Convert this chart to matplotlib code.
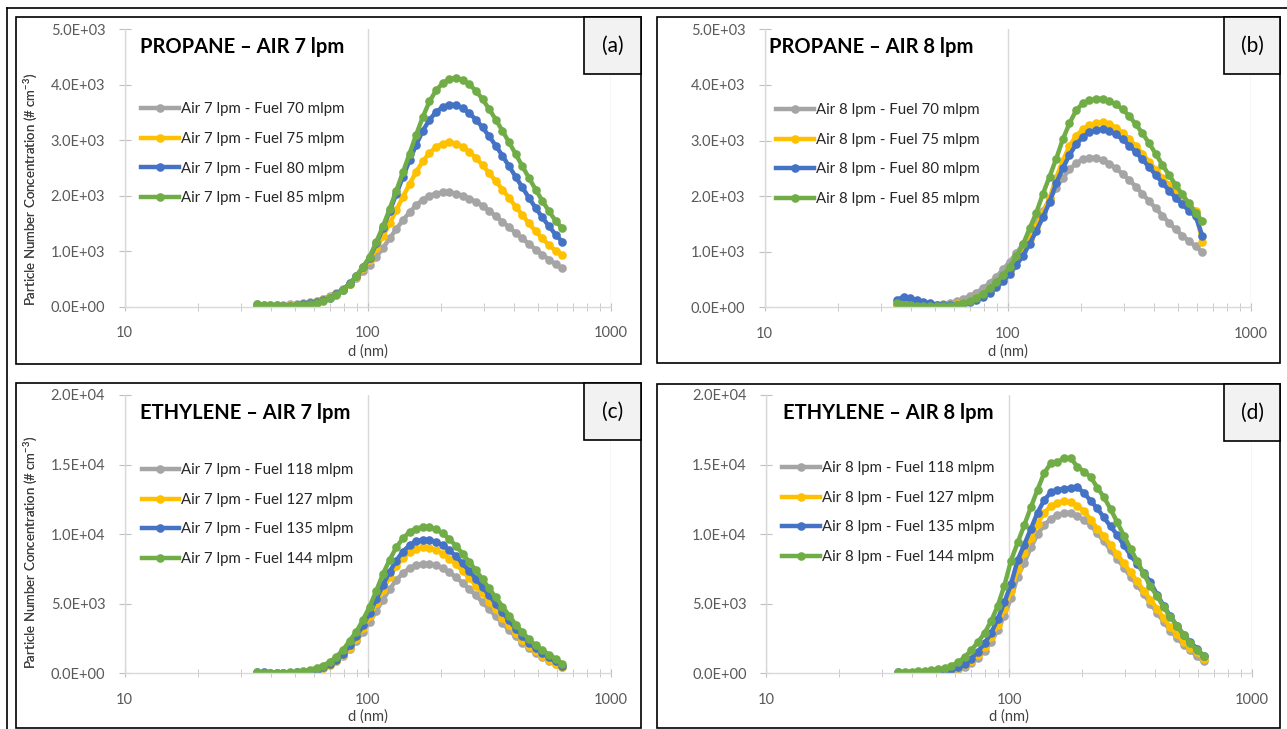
import matplotlib
matplotlib.use('Agg')
import matplotlib.pyplot as plt
from matplotlib.lines import Line2D
from matplotlib.patches import Rectangle
from matplotlib.ticker import FixedLocator, NullFormatter, FuncFormatter

plt.rcParams['font.family'] = ['Lato', 'DejaVu Sans']
plt.rcParams['mathtext.fontset'] = 'custom'
plt.rcParams['mathtext.rm'] = 'Lato'

# particle diameter (nm), SMPS channels
diam = [35.0, 37.3, 39.7, 42.3, 45.0, 47.9, 51.0, 54.4, 57.9, 61.6,
        65.6, 69.9, 74.4, 79.3, 84.4, 89.9, 95.7, 101.9, 108.6, 115.6,
        123.1, 131.1, 139.6, 148.7, 158.3, 168.6, 179.6, 191.2, 203.6, 216.9,
        230.9, 245.9, 261.9, 278.9, 297.0, 316.3, 336.8, 358.6, 381.9, 406.7,
        433.1, 461.2, 491.2, 523.1, 557.0, 593.2, 631.7]

# (a) propane, air 7 lpm
prop7_f70 = [40, 35, 30, 30, 35, 40, 50, 65, 85, 110, 145, 190, 250, 320, 410, 520, 640, 760, 900, 1060,
             1230, 1400, 1560, 1700, 1830, 1930, 2000, 2040, 2060, 2060, 2040, 2000, 1950, 1890, 1820,
             1730, 1630, 1530, 1430, 1330, 1230, 1130, 1030, 940, 850, 770, 690]
prop7_f75 = [5, 5, 8, 12, 18, 25, 35, 50, 70, 95, 130, 175, 235, 310, 410, 540, 690, 850, 1050, 1270,
             1500, 1740, 1980, 2210, 2430, 2620, 2770, 2880, 2940, 2960, 2940, 2880, 2790, 2680, 2550,
             2410, 2260, 2110, 1960, 1800, 1650, 1500, 1360, 1230, 1110, 1010, 930]
prop7_f80 = [10, 8, 8, 10, 14, 20, 28, 40, 58, 82, 115, 160, 225, 310, 420, 550, 710, 880, 1140, 1420,
             1720, 2030, 2340, 2640, 2920, 3170, 3370, 3510, 3600, 3640, 3630, 3580, 3490, 3370, 3230,
             3070, 2900, 2720, 2530, 2340, 2150, 1960, 1780, 1610, 1450, 1300, 1170]
prop7_f85 = [40, 35, 28, 22, 20, 20, 25, 32, 48, 70, 105, 150, 215, 300, 415, 560, 720, 900, 1170, 1450,
             1760, 2090, 2420, 2760, 3100, 3420, 3700, 3900, 4030, 4100, 4120, 4090, 4010, 3890, 3740,
             3560, 3370, 3170, 2960, 2750, 2530, 2320, 2110, 1910, 1720, 1550, 1410]

# (b) propane, air 8 lpm
prop8_f70 = [40, 40, 38, 35, 35, 38, 45, 60, 80, 110, 150, 200, 265, 345, 440, 550, 680, 820, 970, 1140,
             1330, 1530, 1730, 1940, 2150, 2330, 2480, 2590, 2660, 2690, 2690, 2650, 2580, 2500, 2400,
             2290, 2170, 2040, 1910, 1780, 1650, 1520, 1400, 1290, 1190, 1100, 990]
prop8_f75 = [60, 70, 55, 40, 30, 25, 25, 30, 40, 55, 80, 115, 160, 220, 300, 400, 520, 660, 830, 1010,
             1230, 1450, 1700, 1960, 2330, 2640, 2900, 3080, 3200, 3280, 3310, 3330, 3300, 3230, 3140,
             3030, 2900, 2760, 2620, 2470, 2330, 2200, 2070, 1950, 1840, 1740, 1180]
prop8_f80 = [130, 190, 160, 130, 100, 75, 50, 38, 35, 45, 65, 95, 135, 190, 265, 360, 470, 600, 760, 930,
             1140, 1370, 1620, 1890, 2230, 2500, 2740, 2930, 3060, 3150, 3190, 3200, 3170, 3110, 3020,
             2910, 2790, 2660, 2520, 2380, 2240, 2100, 1970, 1850, 1740, 1640, 1290]
prop8_f85 = [70, 50, 35, 25, 18, 15, 15, 20, 30, 48, 75, 115, 170, 245, 340, 450, 580, 720, 920, 1130,
             1420, 1700, 2040, 2350, 2670, 3020, 3310, 3540, 3670, 3720, 3750, 3750, 3710, 3650, 3560,
             3440, 3290, 3130, 2950, 2760, 2560, 2380, 2200, 2030, 1870, 1700, 1550]

# (c) ethylene, air 7 lpm
eth7_f118 = [50, 40, 30, 30, 35, 45, 70, 110, 170, 260, 400, 600, 880, 1250, 1750, 2350, 3000, 3700, 4500, 5300,
             6050, 6700, 7200, 7550, 7780, 7850, 7850, 7750, 7550, 7250, 6900, 6500, 6050, 5600, 5100,
             4600, 4100, 3600, 3100, 2650, 2200, 1800, 1450, 1150, 880, 650, 420]
eth7_f127 = [30, 25, 20, 20, 25, 35, 55, 90, 150, 240, 380, 590, 880, 1300, 1850, 2500, 3250, 4100, 5050, 6000,
             6950, 7700, 8300, 8700, 8950, 9050, 9000, 8850, 8600, 8250, 7850, 7350, 6850, 6300, 5750,
             5150, 4600, 4000, 3450, 2900, 2400, 1950, 1600, 1250, 950, 700, 450]
eth7_f135 = [90, 60, 40, 30, 30, 40, 60, 100, 170, 270, 420, 640, 950, 1400, 2000, 2650, 3450, 4350, 5350, 6350,
             7300, 8100, 8750, 9200, 9500, 9600, 9580, 9450, 9200, 8850, 8400, 7900, 7350, 6800, 6200,
             5600, 5000, 4400, 3800, 3200, 2700, 2200, 1800, 1450, 1150, 850, 560]
eth7_f144 = [60, 50, 45, 45, 50, 70, 110, 170, 260, 380, 560, 820, 1200, 1700, 2350, 3000, 3850, 4800, 5950, 7150,
             8150, 9050, 9700, 10150, 10400, 10500, 10500, 10350, 10050, 9650, 9150, 8600, 8000, 7400, 6750,
             6100, 5450, 4800, 4150, 3500, 2950, 2450, 2000, 1650, 1350, 1050, 700]

# (d) ethylene, air 8 lpm
eth8_f118 = [40, 30, 25, 25, 30, 45, 70, 110, 180, 300, 480, 750, 1100, 1600, 2250, 3100, 4150, 5400, 6950, 7950,
             9050, 10000, 10650, 11100, 11400, 11500, 11550, 11300, 11000, 10650, 10050, 9500, 8850, 8250, 7600,
             6950, 6350, 5700, 5000, 4350, 3700, 3070, 2550, 2050, 1650, 1250, 850]
eth8_f127 = [30, 25, 25, 30, 40, 55, 85, 140, 230, 380, 600, 900, 1350, 1900, 2600, 3500, 4600, 5900, 7500, 8650,
             9700, 10750, 11550, 12000, 12270, 12380, 12300, 12050, 11650, 11050, 10400, 9850, 9200, 8550, 7900,
             7250, 6600, 5950, 5300, 4650, 3950, 3300, 2800, 2250, 1850, 1500, 1050]
eth8_f135 = [60, 50, 40, 40, 50, 70, 110, 170, 280, 450, 700, 1050, 1550, 2150, 2900, 3900, 5100, 6400, 8150, 9250,
             10400, 11550, 12450, 13000, 13200, 13250, 13330, 13380, 12950, 12400, 11850, 11200, 10550, 9950, 9200,
             8500, 7850, 7200, 6550, 5650, 4850, 4100, 3420, 2780, 2250, 1780, 1250]
eth8_f144 = [100, 110, 120, 140, 170, 220, 280, 380, 530, 780, 1150, 1650, 2230, 2880, 3750, 4850, 6300, 8100, 9400, 10650,
             11950, 13200, 14400, 15100, 15150, 15500, 15450, 14850, 14500, 14100, 13350, 12650, 11800, 10850, 9900,
             8950, 8050, 7150, 6250, 5550, 4750, 4050, 3420, 2780, 2200, 1640, 1250]

colors = ['#A5A5A5', '#FFC000', '#4472C4', '#70AD47']
W, H = 1287, 729

fig = plt.figure(figsize=(W / 100, H / 100), dpi=100)


def fbox(x0, y0, x1, y1, **kw):
    # rectangle given in pixel coords (top-left origin)
    r = Rectangle((x0 / W, 1 - y1 / H), (x1 - x0) / W, (y1 - y0) / H,
                  transform=fig.transFigure, **kw)
    fig.patches.append(r)


# outer frame (top and left edges visible)
fig.lines.append(Line2D([7 / W, 1.0], [1 - 8 / H, 1 - 8 / H], transform=fig.transFigure, color='black', lw=1.2))
fig.lines.append(Line2D([7 / W, 7 / W], [1 - 8 / H, 0], transform=fig.transFigure, color='black', lw=1.2))

panels = [
    dict(box=(15.7, 17, 640.7, 364), tag=(584, 17, 641, 74), tagtxt='(a)',
         ax=(124.7, 29.3, 610.7, 306.7), ymax=5000, ystep=1000,
         title='PROPANE – AIR 7 lpm', tpos=(140, 47),
         labels=['Air 7 lpm - Fuel 70 mlpm', 'Air 7 lpm - Fuel 75 mlpm',
                 'Air 7 lpm - Fuel 80 mlpm', 'Air 7 lpm - Fuel 85 mlpm'],
         series=[prop7_f70, prop7_f75, prop7_f80, prop7_f85], leg=(141, 102)),
    dict(box=(657, 17, 1280, 363), tag=(1224, 17, 1280, 74), tagtxt='(b)',
         ax=(764.7, 29.3, 1250.7, 307.3), ymax=5000, ystep=1000,
         title='PROPANE – AIR 8 lpm', tpos=(769, 47),
         labels=['Air 8 lpm - Fuel 70 mlpm', 'Air 8 lpm - Fuel 75 mlpm',
                 'Air 8 lpm - Fuel 80 mlpm', 'Air 8 lpm - Fuel 85 mlpm'],
         series=[prop8_f70, prop8_f75, prop8_f80, prop8_f85], leg=(776, 103)),
    dict(box=(15.7, 382.7, 640.7, 728.3), tag=(584, 383, 641, 440), tagtxt='(c)',
         ax=(124.7, 395, 610.7, 673.3), ymax=20000, ystep=5000,
         title='ETHYLENE – AIR 7 lpm', tpos=(140, 413),
         labels=['Air 7 lpm - Fuel 118 mlpm', 'Air 7 lpm - Fuel 127 mlpm',
                 'Air 7 lpm - Fuel 135 mlpm', 'Air 7 lpm - Fuel 144 mlpm'],
         series=[eth7_f118, eth7_f127, eth7_f135, eth7_f144], leg=(141.7, 463)),
    dict(box=(657, 383.5, 1280, 728.3), tag=(1224, 384, 1280, 441), tagtxt='(d)',
         ax=(766, 395, 1252, 673.3), ymax=20000, ystep=5000,
         title='ETHYLENE – AIR 8 lpm', tpos=(783, 413),
         labels=['Air 8 lpm - Fuel 118 mlpm', 'Air 8 lpm - Fuel 127 mlpm',
                 'Air 8 lpm - Fuel 135 mlpm', 'Air 8 lpm - Fuel 144 mlpm'],
         series=[eth8_f118, eth8_f127, eth8_f135, eth8_f144], leg=(782, 461)),
]

for p in panels:
    fbox(*p['box'], facecolor='white', edgecolor='black', lw=1.2, zorder=-2)

    x0, y0, x1, y1 = p['ax']
    ax = fig.add_axes([x0 / W, 1 - y1 / H, (x1 - x0) / W, (y1 - y0) / H])
    ax.patch.set_alpha(0)

    for vals, c, lab in zip(p['series'], colors, p['labels']):
        ax.plot(diam, vals, color=c, lw=3.2, marker='o', ms=6.2, mew=0, label=lab)

    ax.set_xscale('log')
    ax.set_xlim(10, 1000)
    ax.set_ylim(0, p['ymax'])
    ax.xaxis.set_major_locator(FixedLocator([10, 100, 1000]))
    ax.xaxis.set_minor_locator(FixedLocator([20, 30, 40, 50, 60, 70, 80, 90,
                                             200, 300, 400, 500, 600, 700, 800, 900]))
    ax.xaxis.set_minor_formatter(NullFormatter())
    ax.xaxis.set_major_formatter(FuncFormatter(lambda v, pos: '%d' % v))
    ax.set_yticks(range(0, p['ymax'] + 1, p['ystep']))
    ax.yaxis.set_major_formatter(FuncFormatter(lambda v, pos: '%.1E' % v))

    for s in ['top', 'right']:
        ax.spines[s].set_visible(False)
    for s in ['left', 'bottom']:
        ax.spines[s].set_color('#D9D9D9')
        ax.spines[s].set_linewidth(1)
    ax.grid(axis='x', which='major', color='#D9D9D9', lw=1)

    ax.tick_params(axis='both', which='both', direction='inout', color='#BFBFBF',
                   labelcolor='#595959', labelsize=10.5)
    ax.tick_params(axis='x', which='both', length=6, pad=11)
    ax.tick_params(axis='y', length=8, pad=10)

    ax.set_xlabel('d (nm)', fontsize=10.5, color='#404040')
    ax.set_ylabel(r'Particle Number Concentration (# cm$^{\mathregular{-3}}$)', fontsize=9.5, color='#404040')
    yc = 190 if p['ymax'] == 5000 else 553
    xl = 344 if p['ymax'] == 5000 else 709
    ax.yaxis.set_label_coords((40 - x0) / (x1 - x0), (y1 - yc) / (y1 - y0))
    ax.xaxis.set_label_coords(0.5, (y1 - xl) / (y1 - y0))

    tx, ty = p['tpos']
    fig.text(tx / W, 1 - ty / H, p['title'], fontsize=14.5, fontweight='bold',
             ha='left', va='center', color='black')

    lx, ly = p['leg']
    ax.legend(loc='upper left', bbox_to_anchor=((lx - x0) / (x1 - x0), (y1 - ly) / (y1 - y0)),
              frameon=False, fontsize=10.8, handlelength=2.5, handletextpad=0.15,
              labelspacing=1.05, borderpad=0, borderaxespad=0, markerscale=1.0,
              labelcolor='#262626')

    fbox(*p['tag'], facecolor='#F2F2F2', edgecolor='black', lw=1.2, zorder=5)
    gx0, gy0, gx1, gy1 = p['tag']
    fig.text((gx0 + gx1) / 2 / W, 1 - (gy0 + gy1) / 2 / H, p['tagtxt'], fontsize=15,
             ha='center', va='center', color='black', zorder=6)

fig.savefig('out.png', dpi=100)
